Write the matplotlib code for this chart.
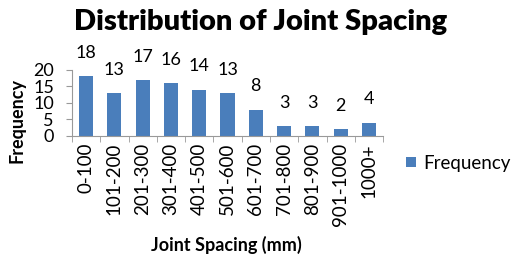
import matplotlib.pyplot as plt
import numpy as np

categories = ['0-100', '101-200', '201-300', '301-400', '401-500', '501-600',
              '601-700', '701-800', '801-900', '901-1000', '1000+']
frequency = [18, 13, 17, 16, 14, 13, 8, 3, 3, 2, 4]

plt.rcParams['font.family'] = ['Lato', 'DejaVu Sans']

fig = plt.figure(figsize=(5.15, 2.56), dpi=100)
ax = fig.add_axes([0.1398, 0.469, 0.604, 0.258])

x = np.arange(len(categories))
ax.bar(x, frequency, width=0.5, color='#4a7ebb', label='Frequency')
for xi, v in zip(x, frequency):
    ax.annotate(str(v), (xi, v), xytext=(0, 11), textcoords='offset points',
                ha='center', va='bottom', fontsize=13)

ax.set_xlim(-0.5, len(categories) - 0.5)
ax.set_ylim(0, 20)
ax.set_yticks([0, 5, 10, 15, 20])
ax.tick_params(axis='y', labelsize=13, length=4, color='#999999', pad=9)
ax.set_xticks(x)
ax.set_xticklabels(categories, rotation=90, fontsize=13.5)
ax.tick_params(axis='x', length=0, pad=5)
ax.set_xticks(np.arange(-0.5, len(categories), 1), minor=True)
ax.tick_params(axis='x', which='minor', length=4, color='#999999')

for s in ['top', 'right']:
    ax.spines[s].set_visible(False)
for s in ['left', 'bottom']:
    ax.spines[s].set_color('#999999')

ax.set_ylabel('Frequency', fontsize=13, fontweight='bold', va='center')
ax.yaxis.set_label_coords(-0.177, 0.24)
ax.set_xlabel('Joint Spacing (mm)', fontsize=13, fontweight='bold', va='center')
ax.xaxis.set_label_coords(0.495, -1.65)
fig.text(0.505, 0.914, 'Distribution of Joint Spacing', ha='center', va='center',
         fontsize=21, fontweight='heavy')

ax.legend(loc='center left', bbox_to_anchor=(1.075, -0.41), frameon=False,
          borderaxespad=0, borderpad=0, fontsize=13.5,
          handlelength=0.5, handleheight=0.5, handletextpad=0.4)

fig.savefig('out.png', dpi=100)
